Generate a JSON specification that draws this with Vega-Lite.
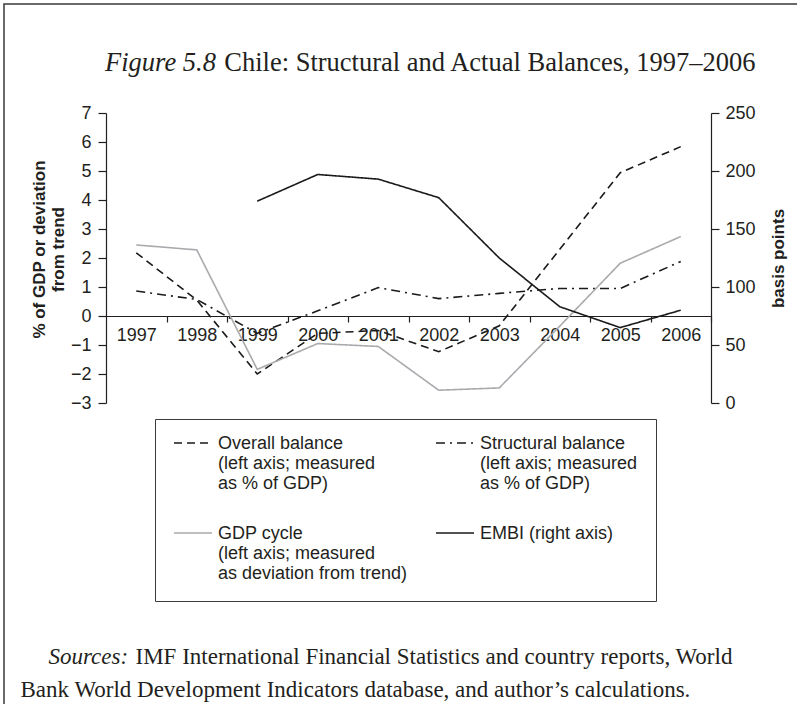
{
  "$schema": "https://vega.github.io/schema/vega-lite/v6.json",
  "autosize": {"type": "none"},
  "padding": {"left": 4, "top": 4, "right": 0, "bottom": 0},
  "width": 800,
  "height": 710,
  "background": "white",
  "config": {
    "view": {"stroke": "#3a3a3a", "strokeWidth": 1.5},
    "font": "Liberation Sans",
    "axis": {
      "labelFont": "Liberation Sans", "labelFontSize": 18, "labelColor": "#231f20",
      "domainColor": "#231f20", "tickColor": "#231f20", "domainWidth": 1.2, "tickWidth": 1.2,
      "grid": false, "titleFont": "Liberation Sans", "titleColor": "#231f20"
    },
    "legend": {
      "orient": "none", "legendX": 151, "legendY": 415, "columns": 2, "direction": "horizontal",
      "symbolType": "stroke", "symbolSize": 1444, "clipHeight": 12,
      "labelFont": "Liberation Sans", "labelFontSize": 18, "labelColor": "#231f20",
      "labelOffset": 5, "labelLimit": 400, "rowPadding": 32, "columnPadding": 27,
      "padding": 18, "strokeColor": "#3a3a3a"
    }
  },
  "title": {
    "text": "Figure 5.8",
    "subtitle": "\u200b\u2003\u2003\u2003\u2003\u2002Chile: Structural and Actual Balances, 1997\u20132006",
    "orient": "top", "anchor": "start", "frame": "group",
    "offset": -72, "dx": 101, "subtitlePadding": -26.5,
    "font": "Liberation Serif", "fontStyle": "italic", "fontWeight": "normal", "fontSize": 26.5, "color": "#231f20",
    "subtitleFont": "Liberation Serif", "subtitleFontStyle": "normal", "subtitleFontWeight": "normal",
    "subtitleFontSize": 26.5, "subtitleColor": "#231f20"
  },
  "datasets": {
    "rows": [
      {"year": "1997", "series": "Overall balance", "value": 2.18},
      {"year": "1998", "series": "Overall balance", "value": 0.55},
      {"year": "1999", "series": "Overall balance", "value": -2.0},
      {"year": "2000", "series": "Overall balance", "value": -0.6},
      {"year": "2001", "series": "Overall balance", "value": -0.5},
      {"year": "2002", "series": "Overall balance", "value": -1.23},
      {"year": "2003", "series": "Overall balance", "value": -0.34},
      {"year": "2004", "series": "Overall balance", "value": 2.3},
      {"year": "2005", "series": "Overall balance", "value": 4.94},
      {"year": "2006", "series": "Overall balance", "value": 5.84},
      {"year": "1997", "series": "Structural balance", "value": 0.86},
      {"year": "1998", "series": "Structural balance", "value": 0.57},
      {"year": "1999", "series": "Structural balance", "value": -0.6},
      {"year": "2000", "series": "Structural balance", "value": 0.18},
      {"year": "2001", "series": "Structural balance", "value": 0.98},
      {"year": "2002", "series": "Structural balance", "value": 0.6},
      {"year": "2003", "series": "Structural balance", "value": 0.78},
      {"year": "2004", "series": "Structural balance", "value": 0.95},
      {"year": "2005", "series": "Structural balance", "value": 0.95},
      {"year": "2006", "series": "Structural balance", "value": 1.88},
      {"year": "1997", "series": "GDP cycle", "value": 2.45},
      {"year": "1998", "series": "GDP cycle", "value": 2.28},
      {"year": "1999", "series": "GDP cycle", "value": -1.84},
      {"year": "2000", "series": "GDP cycle", "value": -0.95},
      {"year": "2001", "series": "GDP cycle", "value": -1.05},
      {"year": "2002", "series": "GDP cycle", "value": -2.56},
      {"year": "2003", "series": "GDP cycle", "value": -2.48},
      {"year": "2004", "series": "GDP cycle", "value": -0.35},
      {"year": "2005", "series": "GDP cycle", "value": 1.82},
      {"year": "2006", "series": "GDP cycle", "value": 2.74},
      {"year": "1999", "series": "EMBI (right axis)", "value": 174},
      {"year": "2000", "series": "EMBI (right axis)", "value": 197},
      {"year": "2001", "series": "EMBI (right axis)", "value": 193},
      {"year": "2002", "series": "EMBI (right axis)", "value": 177},
      {"year": "2003", "series": "EMBI (right axis)", "value": 125},
      {"year": "2004", "series": "EMBI (right axis)", "value": 83},
      {"year": "2005", "series": "EMBI (right axis)", "value": 65},
      {"year": "2006", "series": "EMBI (right axis)", "value": 80}
    ]
  },
  "data": {"name": "rows"},
  "layer": [
    {
      "transform": [{"filter": "datum.series !== 'EMBI (right axis)'"}],
      "mark": {"type": "line", "strokeCap": "butt", "clip": false},
      "encoding": {
        "x": {
          "field": "year", "type": "ordinal",
          "scale": {"type": "point", "domain": ["1997","1998","1999","2000","2001","2002","2003","2004","2005","2006"], "range": [102, 707], "padding": 0.5},
          "axis": {
            "orient": "bottom", "offset": -398, "tickOffset": 30.25, "labelOffset": -30.25,
            "tickSize": 6, "labelPadding": 4, "labelAngle": 0, "labelOverlap": false, "labelFlush": false,
            "title": "Sources:", "titleFont": "Liberation Serif", "titleFontStyle": "italic", "titleFontWeight": "normal",
            "titleFontSize": 23, "titleX": 44, "titleY": 347, "titleAlign": "left", "titleBaseline": "alphabetic", "titleAngle": 0
          }
        },
        "y": {
          "field": "value", "type": "quantitative",
          "scale": {"domain": [-3, 7], "range": [399, 109], "nice": false, "zero": false},
          "axis": {
            "orient": "left", "offset": -102, "values": [-3,-2,-1,0,1,2,3,4,5,6,7],
            "tickSize": 8, "labelPadding": 7,
            "title": ["% of GDP or deviation", "from trend"], "titleFontSize": 17, "titleFontWeight": "bold",
            "titleLineHeight": 19, "titleAngle": 270, "titleAlign": "center", "titleBaseline": "alphabetic",
            "titleX": -62, "titleY": 245
          }
        },
        "color": {
          "field": "series", "type": "nominal",
          "scale": {"domain": ["Overall balance", "Structural balance", "GDP cycle", "EMBI (right axis)"], "range": ["#1a1a1a", "#1a1a1a", "#a8aaad", "#1a1a1a"]},
          "legend": {
            "title": null,
            "labelExpr": "datum.label === 'Overall balance' ? ['Overall balance', '(left axis; measured', 'as % of GDP)'] : datum.label === 'Structural balance' ? ['Structural balance', '(left axis; measured', 'as % of GDP)'] : datum.label === 'GDP cycle' ? ['GDP cycle', '(left axis; measured', 'as deviation from trend)'] : datum.label",
            "labelBaseline": "alphabetic",
            "encode": {"labels": {"update": {"dy": {"value": 6}, "lineHeight": {"value": 20}}}}
          }
        },
        "strokeDash": {
          "field": "series", "type": "nominal",
          "scale": {"domain": ["Overall balance", "Structural balance", "GDP cycle", "EMBI (right axis)"], "range": [[8, 5], [9, 5, 2, 5], [1, 0], [1, 0]]},
          "legend": {"title": null}
        },
        "strokeWidth": {
          "field": "series", "type": "nominal",
          "scale": {"domain": ["Overall balance", "Structural balance", "GDP cycle", "EMBI (right axis)"], "range": [1.6, 1.6, 3.2, 1.8]},
          "legend": {"title": null}
        }
      }
    },
    {
      "transform": [{"filter": "datum.series === 'EMBI (right axis)'"}],
      "mark": {"type": "line", "strokeCap": "butt", "clip": false},
      "encoding": {
        "x": {
          "field": "year", "type": "ordinal",
          "scale": {"type": "point", "domain": ["1997","1998","1999","2000","2001","2002","2003","2004","2005","2006"], "range": [102, 707], "padding": 0.5},
          "axis": {
            "orient": "top", "offset": 0, "domain": false, "ticks": false, "labels": false,
            "title": ["\u200b\u2003\u2003\u2003\u2003\u2002\u2005\u2005IMF International Financial Statistics and country reports, World", "Bank World Development Indicators database, and author\u2019s calculations."],
            "titleFont": "Liberation Serif", "titleFontStyle": "normal", "titleFontWeight": "normal", "titleFontSize": 23,
            "titleLineHeight": 33, "titleX": 16, "titleY": 659, "titleAlign": "left", "titleBaseline": "alphabetic", "titleAngle": 0
          }
        },
        "y": {
          "field": "value", "type": "quantitative",
          "scale": {"domain": [0, 250], "range": [399, 109], "nice": false, "zero": false},
          "axis": {
            "orient": "right", "offset": -93, "values": [0, 50, 100, 150, 200, 250],
            "tickSize": 8, "labelPadding": 6,
            "title": "basis points", "titleFontSize": 17, "titleFontWeight": "bold",
            "titleAngle": 270, "titleAlign": "center", "titleBaseline": "alphabetic",
            "titleX": 72, "titleY": 254
          }
        },
        "color": {
          "field": "series", "type": "nominal",
          "scale": {"domain": ["Overall balance", "Structural balance", "GDP cycle", "EMBI (right axis)"], "range": ["#1a1a1a", "#1a1a1a", "#a8aaad", "#1a1a1a"]},
          "legend": {
            "title": null,
            "labelExpr": "datum.label === 'Overall balance' ? ['Overall balance', '(left axis; measured', 'as % of GDP)'] : datum.label === 'Structural balance' ? ['Structural balance', '(left axis; measured', 'as % of GDP)'] : datum.label === 'GDP cycle' ? ['GDP cycle', '(left axis; measured', 'as deviation from trend)'] : datum.label",
            "labelBaseline": "alphabetic",
            "encode": {"labels": {"update": {"dy": {"value": 6}, "lineHeight": {"value": 20}}}}
          }
        },
        "strokeDash": {
          "field": "series", "type": "nominal",
          "scale": {"domain": ["Overall balance", "Structural balance", "GDP cycle", "EMBI (right axis)"], "range": [[8, 5], [9, 5, 2, 5], [1, 0], [1, 0]]},
          "legend": {"title": null}
        },
        "strokeWidth": {
          "field": "series", "type": "nominal",
          "scale": {"domain": ["Overall balance", "Structural balance", "GDP cycle", "EMBI (right axis)"], "range": [1.6, 1.6, 3.2, 1.8]},
          "legend": {"title": null}
        }
      }
    }
  ],
  "resolve": {"scale": {"x": "independent", "y": "independent"}}
}
